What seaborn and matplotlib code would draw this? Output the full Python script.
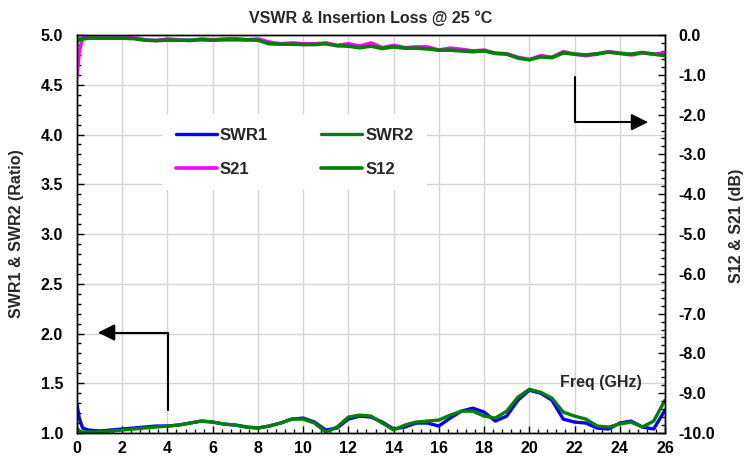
# VSWR and insertion loss of a part at 25 C, two y axes (ratio / dB).

import pandas as pd
import matplotlib
matplotlib.use("Agg")
import matplotlib.pyplot as plt
from matplotlib.ticker import MultipleLocator, FormatStrFormatter
import seaborn as sns

freq = [0.0, 0.1, 0.25, 0.5, 1.0, 1.5, 2.0, 2.5, 3.0, 3.5, 4.0, 4.5, 5.0, 5.5,
        6.0, 6.5, 7.0, 7.5, 8.0, 8.5, 9.0, 9.5, 10.0, 10.5, 11.0, 11.5, 12.0,
        12.5, 13.0, 13.5, 14.0, 14.5, 15.0, 15.5, 16.0, 16.5, 17.0, 17.5, 18.0,
        18.5, 19.0, 19.5, 20.0, 20.5, 21.0, 21.5, 22.0, 22.5, 23.0, 23.5, 24.0,
        24.5, 25.0, 25.5, 26.0]

swr1 = [1.29, 1.15, 1.05, 1.03, 1.02, 1.03, 1.04, 1.05, 1.06, 1.07, 1.07, 1.08,
        1.10, 1.12, 1.11, 1.09, 1.08, 1.06, 1.05, 1.07, 1.10, 1.14, 1.15, 1.11,
        1.03, 1.05, 1.14, 1.17, 1.16, 1.11, 1.04, 1.06, 1.10, 1.10, 1.07, 1.15,
        1.22, 1.25, 1.21, 1.12, 1.17, 1.33, 1.43, 1.40, 1.33, 1.14, 1.11, 1.10,
        1.05, 1.04, 1.10, 1.12, 1.06, 1.04, 1.23]

swr2 = [1.05, 1.02, 1.01, 1.01, 1.01, 1.02, 1.03, 1.04, 1.05, 1.06, 1.07, 1.08,
        1.10, 1.12, 1.11, 1.09, 1.08, 1.06, 1.05, 1.07, 1.10, 1.14, 1.14, 1.10,
        1.01, 1.06, 1.16, 1.18, 1.17, 1.10, 1.03, 1.08, 1.11, 1.12, 1.13, 1.18,
        1.22, 1.22, 1.17, 1.15, 1.22, 1.36, 1.44, 1.41, 1.35, 1.21, 1.17, 1.14,
        1.07, 1.06, 1.09, 1.11, 1.06, 1.12, 1.33]

s21 = [-1.05, -0.40, -0.06, -0.05, -0.06, -0.05, -0.06, -0.07, -0.12, -0.14,
       -0.10, -0.12, -0.14, -0.10, -0.12, -0.10, -0.09, -0.12, -0.10, -0.18,
       -0.22, -0.20, -0.22, -0.22, -0.20, -0.26, -0.22, -0.28, -0.20, -0.32,
       -0.26, -0.32, -0.30, -0.30, -0.38, -0.33, -0.36, -0.40, -0.38, -0.46,
       -0.47, -0.56, -0.62, -0.52, -0.56, -0.42, -0.48, -0.52, -0.48, -0.42,
       -0.46, -0.50, -0.45, -0.48, -0.45]

s12 = [-0.18, -0.10, -0.10, -0.08, -0.08, -0.08, -0.08, -0.09, -0.13, -0.14,
       -0.13, -0.13, -0.13, -0.12, -0.13, -0.12, -0.12, -0.12, -0.13, -0.22,
       -0.23, -0.23, -0.24, -0.24, -0.22, -0.27, -0.28, -0.32, -0.28, -0.34,
       -0.30, -0.33, -0.33, -0.35, -0.38, -0.38, -0.40, -0.42, -0.40, -0.46,
       -0.48, -0.58, -0.62, -0.55, -0.57, -0.45, -0.48, -0.50, -0.47, -0.43,
       -0.46, -0.48, -0.44, -0.48, -0.52]

sns.set_style("ticks")
plt.rcParams["font.family"] = ["Liberation Sans", "DejaVu Sans"]
plt.rcParams["font.weight"] = "bold"
plt.rcParams["axes.unicode_minus"] = False

df = pd.DataFrame({"Freq": freq, "SWR1": swr1, "SWR2": swr2, "S21": s21, "S12": s12})

fig = plt.figure(figsize=(7.46, 4.70), dpi=100)
ax = fig.add_axes([0.1032, 0.0787, 0.7882, 0.8468])
ax2 = ax.twinx()

sns.lineplot(data=df, x="Freq", y="SWR1", ax=ax, color="#0000ff", lw=2.4, label="SWR1")
sns.lineplot(data=df, x="Freq", y="SWR2", ax=ax, color="#008000", lw=2.4, label="SWR2")
sns.lineplot(data=df, x="Freq", y="S21", ax=ax2, color="#ff00ff", lw=2.6, label="S21")
sns.lineplot(data=df, x="Freq", y="S12", ax=ax2, color="#008000", lw=2.6, label="S12")

ax.set_xlim(0, 26)
ax.set_ylim(1, 5)
ax2.set_ylim(-10, 0)

ax.xaxis.set_major_locator(MultipleLocator(2))
ax.xaxis.set_minor_locator(MultipleLocator(0.4))
ax.yaxis.set_major_locator(MultipleLocator(0.5))
ax.yaxis.set_minor_locator(MultipleLocator(0.1))
ax.yaxis.set_major_formatter(FormatStrFormatter("%.1f"))
ax2.yaxis.set_major_locator(MultipleLocator(1))
ax2.yaxis.set_minor_locator(MultipleLocator(0.2))
ax2.yaxis.set_major_formatter(FormatStrFormatter("%.1f"))

ax.grid(True, which="major", color="#d4d4d4", lw=1)
ax.set_axisbelow(True)

for a in (ax, ax2):
    for sp in a.spines.values():
        sp.set_color("black")
        sp.set_linewidth(1)
    a.tick_params(which="both", direction="in", colors="black", labelsize=11.5)
    a.tick_params(which="major", length=5, width=1)
    a.tick_params(which="minor", length=3, width=1)
ax.tick_params(axis="x", which="both", top=False, pad=6)
ax.tick_params(axis="y", which="both", right=False, pad=10)
ax2.tick_params(axis="y", which="both", left=False, pad=10)

ax.set_xlabel("")
ax.set_ylabel("SWR1 & SWR2 (Ratio)", fontsize=11.5, fontweight="bold")
ax2.set_ylabel("S12 & S21 (dB)", fontsize=11.5, fontweight="bold")
ax.yaxis.set_label_coords(-0.090, 0.5)
ax2.yaxis.set_label_coords(1.109, 0.52)
ax.set_title("VSWR & Insertion Loss @ 25 °C", fontsize=11.5, fontweight="bold", pad=9)

ax.text(23.15, 1.51, "Freq (GHz)", ha="center", va="center", fontsize=11.5, fontweight="bold")

arrow = dict(arrowstyle="-|>,head_length=1.0,head_width=0.5", mutation_scale=10,
             color="black", lw=1.5, shrinkA=0, shrinkB=0,
             connectionstyle="angle,angleA=90,angleB=0,rad=0")
ax.annotate("", xy=(0.93, 2.01), xytext=(4.03, 1.23), arrowprops=arrow)
ax2.annotate("", xy=(25.25, -2.19), xytext=(22, -1.06), arrowprops=arrow)

h1, l1 = ax.get_legend_handles_labels()
h2, l2 = ax2.get_legend_handles_labels()
ax.get_legend().remove()
ax2.get_legend().remove()
handles = [h1[0], h2[0], h1[1], h2[1]]
labels = [l1[0], l2[0], l1[1], l2[1]]
leg = ax2.legend(handles, labels, ncol=2, loc="upper left", bbox_to_anchor=(0.131, 0.822),
                 frameon=True, fancybox=False, facecolor="white", edgecolor="none",
                 framealpha=1, fontsize=12, handlelength=2.45, handletextpad=0.2,
                 columnspacing=3.2, labelspacing=1.14, borderpad=0.8)

fig.savefig("out.png", dpi=100)
